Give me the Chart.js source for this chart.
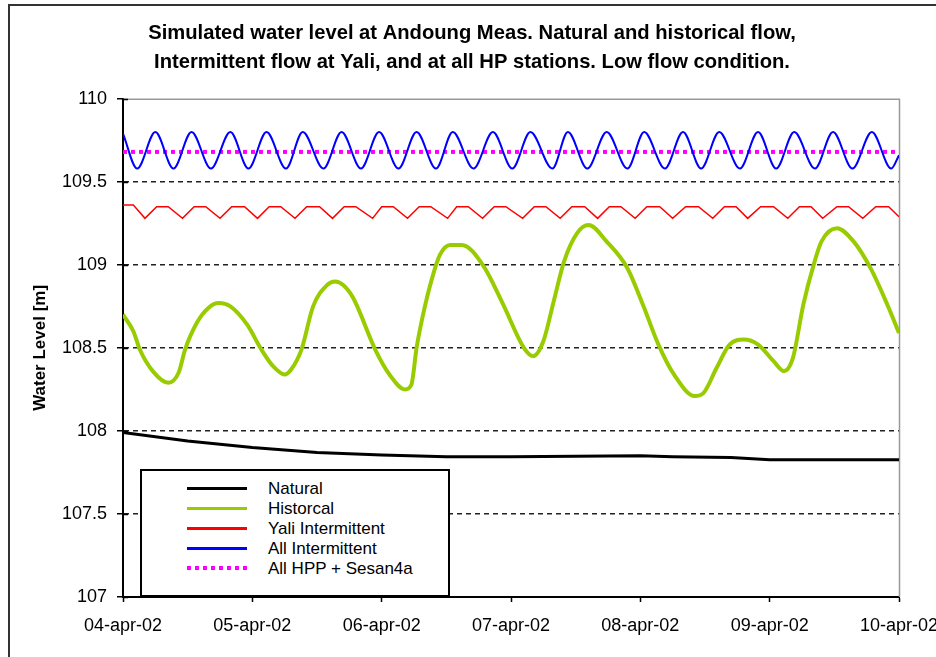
<!DOCTYPE html>
<html>
<head>
<meta charset="utf-8">
<script src="https://cdn.jsdelivr.net/npm/chart.js@4.4.1/dist/chart.umd.min.js"></script>
<style>
  html, body { margin: 0; padding: 0; background: #fff; }
  #wrap { position: relative; width: 936px; height: 657px; overflow: hidden; }
  #legend {
    position: absolute; left: 140px; top: 469px; width: 306px; height: 116px;
    border: 2px solid #000; background: #fff; padding-top: 8px; box-sizing: content-box;
    font-family: "Liberation Sans", Arial, sans-serif; font-size: 17px; color: #000;
  }
  #legend div.row { position: relative; height: 20px; }
  #legend span.sw { position: absolute; left: 45px; top: 8px; width: 60px; height: 3px; }
  #legend span.tx { position: absolute; left: 126px; top: 0; line-height: 20px; white-space: nowrap; }
</style>
</head>
<body>
<div id="wrap">
  <canvas id="levelChart" width="936" height="657"></canvas>
  <div id="legend"></div>
</div>
<script>
// Axis ticks and labels
const dayTicks = [0, 1, 2, 3, 4, 5, 6];
const dateLabels = ['04-apr-02', '05-apr-02', '06-apr-02', '07-apr-02', '08-apr-02', '09-apr-02', '10-apr-02'];
const levelTicks = [107, 107.5, 108, 108.5, 109, 109.5, 110];

// Natural
const naturalDays = [0, 0.5, 1, 1.5, 2, 2.5, 3, 3.5, 4, 4.25, 4.7, 5, 6];
const naturalLevels = [107.99, 107.94, 107.90, 107.87, 107.855, 107.845, 107.845, 107.848, 107.85, 107.845, 107.84, 107.826, 107.826];

// Historcal
const historicalDays = [0, 0.08, 0.13, 0.23, 0.35, 0.43, 0.48, 0.57, 0.66, 0.74, 0.83, 0.96,
  1.07, 1.16, 1.25, 1.30, 1.38, 1.47, 1.58, 1.64, 1.70, 1.78, 1.95,
  2.06, 2.18, 2.23, 2.27, 2.32, 2.39, 2.45, 2.53, 2.62, 2.79, 2.94,
  3.10, 3.17, 3.25, 3.33, 3.41, 3.51, 3.60, 3.74, 3.90,
  4.02, 4.14, 4.26, 4.42, 4.49, 4.59, 4.69, 4.80, 4.91,
  5.03, 5.11, 5.18, 5.26, 5.34, 5.40, 5.52, 5.65, 5.78, 5.91, 6.00];
const historicalLevels = [108.70, 108.60, 108.49, 108.36, 108.29, 108.35, 108.49, 108.65, 108.74, 108.77, 108.75, 108.64,
  108.49, 108.39, 108.34, 108.37, 108.49, 108.75, 108.88, 108.90, 108.88, 108.80, 108.49,
  108.34, 108.25, 108.28, 108.50, 108.70, 108.92, 109.06, 109.12, 109.12, 108.99, 108.76,
  108.50, 108.45, 108.54, 108.78, 109.02, 109.19, 109.24, 109.14, 108.98,
  108.76, 108.52, 108.34, 108.21, 108.23, 108.38, 108.52, 108.55, 108.52,
  108.42, 108.36, 108.44, 108.76, 109.00, 109.14, 109.22, 109.14, 108.98, 108.76, 108.59];

// Yali Intermittent
const yaliDays = [0, 0.08, 0.17, 0.26, 0.35, 0.46, 0.55, 0.64, 0.75, 0.84, 0.94, 1.04, 1.13, 1.22, 1.33,
  1.42, 1.52, 1.62, 1.71, 1.80, 1.93, 2.00, 2.09, 2.20, 2.29, 2.38, 2.51, 2.58, 2.67, 2.78,
  2.87, 2.96, 3.09, 3.18, 3.27, 3.38, 3.47, 3.57, 3.67, 3.76, 3.85, 3.96, 4.05, 4.15, 4.25,
  4.35, 4.45, 4.56, 4.65, 4.74, 4.83, 4.93, 5.03, 5.14, 5.23, 5.32, 5.41, 5.52, 5.61, 5.72,
  5.82, 5.92, 6.00];
const yaliLevels = [109.36, 109.36, 109.28, 109.35, 109.35, 109.28, 109.35, 109.35, 109.28, 109.35, 109.35, 109.28, 109.35, 109.35, 109.28,
  109.35, 109.35, 109.28, 109.35, 109.35, 109.28, 109.35, 109.35, 109.28, 109.35, 109.35, 109.28, 109.35, 109.35, 109.28,
  109.35, 109.35, 109.28, 109.35, 109.35, 109.28, 109.35, 109.35, 109.28, 109.35, 109.35, 109.28, 109.35, 109.35, 109.28,
  109.35, 109.35, 109.28, 109.35, 109.35, 109.28, 109.35, 109.35, 109.28, 109.35, 109.35, 109.28, 109.35, 109.35, 109.28,
  109.35, 109.35, 109.29];

// All Intermittent
const allDays = [0, 0.11, 0.25, 0.39, 0.53, 0.68, 0.83, 0.97, 1.11, 1.26, 1.39, 1.55, 1.69, 1.84, 1.98,
  2.13, 2.27, 2.42, 2.55, 2.71, 2.86, 3.01, 3.15, 3.32, 3.44, 3.59, 3.74, 3.90, 4.03,
  4.19, 4.33, 4.47, 4.61, 4.77, 4.91, 5.05, 5.19, 5.35, 5.49, 5.64, 5.79, 5.94, 6.00];
const allLevels = [109.79, 109.58, 109.80, 109.58, 109.80, 109.58, 109.80, 109.58, 109.80, 109.58, 109.80, 109.58, 109.80, 109.58, 109.80,
  109.58, 109.80, 109.58, 109.80, 109.58, 109.80, 109.58, 109.80, 109.58, 109.80, 109.58, 109.80, 109.58, 109.80,
  109.58, 109.80, 109.58, 109.80, 109.58, 109.80, 109.58, 109.80, 109.58, 109.80, 109.58, 109.80, 109.58, 109.66];

// All HPP + Sesan4a
const hppDays = [0, 6];
const hppLevels = [109.68, 109.68];

const FONT = '"Liberation Sans", Arial, sans-serif';

function toPoints(xs, ys) {
    return xs.map((x, i) => ({ x: x, y: ys[i] }));
}

// Background, outer frame, plot border and inner tick stubs
const framePlugin = {
    id: 'frame',
    beforeDraw(chart) {
        const ctx = chart.ctx;
        ctx.save();
        ctx.fillStyle = '#fff';
        ctx.fillRect(0, 0, chart.width, chart.height);
        ctx.strokeStyle = '#333';
        ctx.lineWidth = 2;
        ctx.beginPath();
        ctx.moveTo(9, chart.height);
        ctx.lineTo(9, 5);
        ctx.lineTo(chart.width, 5);
        ctx.stroke();
        ctx.restore();
    },
    beforeDatasetsDraw(chart) {
        const ctx = chart.ctx;
        const a = chart.chartArea;
        ctx.save();
        ctx.strokeStyle = '#999';
        ctx.lineWidth = 1.5;
        ctx.beginPath();
        ctx.moveTo(a.left, a.top + 0.5);
        ctx.lineTo(a.right + 0.5, a.top + 0.5);
        ctx.lineTo(a.right + 0.5, a.bottom);
        ctx.stroke();
        ctx.strokeStyle = '#000';
        ctx.lineWidth = 1.5;
        const y = chart.scales.y;
        levelTicks.forEach(v => {
            const py = Math.round(y.getPixelForValue(v)) + 0.5;
            ctx.beginPath();
            ctx.moveTo(a.left, py);
            ctx.lineTo(a.left + 5, py);
            ctx.stroke();
        });
        ctx.restore();
    }
};

const chart = new Chart(document.getElementById('levelChart').getContext('2d'), {
    type: 'line',
    data: {
        datasets: [
            {
                label: 'Natural',
                data: toPoints(naturalDays, naturalLevels),
                borderColor: '#000000',
                borderWidth: 3,
                tension: 0
            },
            {
                label: 'Historcal',
                data: toPoints(historicalDays, historicalLevels),
                borderColor: '#99cc00',
                borderWidth: 4,
                cubicInterpolationMode: 'monotone'
            },
            {
                label: 'Yali Intermittent',
                data: toPoints(yaliDays, yaliLevels),
                borderColor: '#ff0000',
                borderWidth: 1.5,
                tension: 0
            },
            {
                label: 'All Intermittent',
                data: toPoints(allDays, allLevels),
                borderColor: '#0000ff',
                borderWidth: 2,
                cubicInterpolationMode: 'monotone'
            },
            {
                label: 'All HPP + Sesan4a',
                data: toPoints(hppDays, hppLevels),
                borderColor: '#ff00ff',
                borderWidth: 4,
                borderDash: [4, 4],
                borderCapStyle: 'butt',
                tension: 0
            }
        ]
    },
    options: {
        responsive: false,
        animation: false,
        devicePixelRatio: 1,
        layout: { padding: { left: 8, right: 0, top: 0, bottom: 0 } },
        elements: { point: { radius: 0 } },
        plugins: {
            legend: { display: false },
            tooltip: { enabled: false },
            title: {
                display: true,
                text: ['Simulated water level at Andoung Meas. Natural and historical flow,',
                       'Intermittent flow at Yali, and at all HP stations. Low flow condition.'],
                color: '#000',
                font: { family: FONT, size: 20.2, weight: 'bold', lineHeight: 1.43 },
                padding: { top: 19, bottom: 22 }
            }
        },
        scales: {
            x: {
                type: 'linear',
                min: 0,
                max: 6,
                afterBuildTicks(scale) {
                    scale.ticks = dayTicks.map(v => ({ value: v }));
                },
                afterFit(scale) {
                    scale.height = 60;
                    scale.paddingLeft = 0;
                    scale.paddingRight = 0;
                },
                ticks: {
                    callback: (v) => dateLabels[v],
                    color: '#000',
                    font: { family: FONT, size: 18 },
                    padding: 13,
                    maxRotation: 0,
                    autoSkip: false
                },
                grid: { drawOnChartArea: false, drawTicks: true, tickLength: 5, tickColor: '#000', tickWidth: 1.5 },
                border: { display: true, color: '#000', width: 2 }
            },
            y: {
                min: 107,
                max: 110,
                afterBuildTicks(scale) {
                    scale.ticks = levelTicks.map(v => ({ value: v }));
                },
                afterFit(scale) {
                    scale.width = 115;
                },
                ticks: {
                    callback: (v) => String(v),
                    color: '#000',
                    font: { family: FONT, size: 18 },
                    padding: 10
                },
                title: {
                    display: true,
                    text: 'Water Level [m]',
                    color: '#000',
                    font: { family: FONT, size: 17, weight: 'bold', lineHeight: 1.2 },
                    padding: { top: 22, bottom: 0 }
                },
                grid: {
                    color: (c) => (c.tick && (c.tick.value === 110 || c.tick.value === 107)) ? 'rgba(0,0,0,0)' : '#222',
                    lineWidth: 1.5,
                    drawTicks: true,
                    tickLength: 6,
                    tickColor: '#000',
                    tickWidth: 1.5
                },
                border: { display: true, color: '#000', width: 2, dash: [5, 4] }
            },
            yPad: {
                type: 'linear',
                position: 'right',
                display: true,
                ticks: { display: false },
                grid: { display: false, drawTicks: false },
                border: { display: false },
                afterFit(scale) {
                    scale.width = 37;
                }
            }
        }
    },
    plugins: [framePlugin]
});

// HTML legend built from the datasets
const legendEl = document.getElementById('legend');
chart.data.datasets.forEach(ds => {
    const row = document.createElement('div');
    row.className = 'row';
    const sw = document.createElement('span');
    sw.className = 'sw';
    if (ds.borderDash) {
        sw.style.height = '4px';
        sw.style.top = '7px';
        sw.style.background = 'repeating-linear-gradient(to right, ' + ds.borderColor + ' 0 4px, transparent 4px 8px)';
    } else {
        sw.style.background = ds.borderColor;
    }
    const tx = document.createElement('span');
    tx.className = 'tx';
    tx.textContent = ds.label;
    row.appendChild(sw);
    row.appendChild(tx);
    legendEl.appendChild(row);
});
</script>
</body>
</html>
